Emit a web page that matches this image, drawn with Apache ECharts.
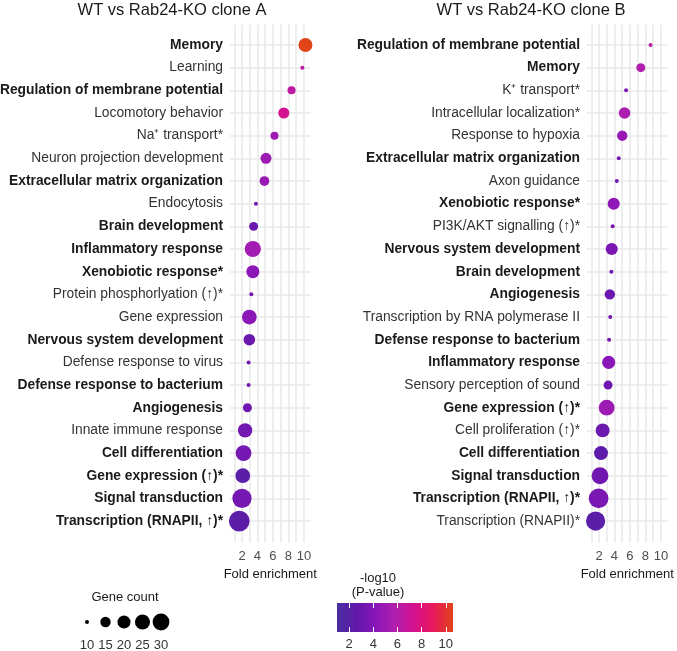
<!DOCTYPE html>
<html>
<head>
<meta charset="utf-8">
<script src="https://cdn.jsdelivr.net/npm/echarts@6/dist/echarts.min.js"></script>
<style>
  html, body { margin: 0; padding: 0; background: #fff; }
  #chart { width: 677px; height: 651px; }
</style>
</head>
<body>
<div id="chart"></div>
<script>
// clone A
const termsA = ['Memory', 'Learning', 'Regulation of membrane potential', 'Locomotory behavior',
  'Na⁺ transport*', 'Neuron projection development', 'Extracellular matrix organization',
  'Endocytosis', 'Brain development', 'Inflammatory response', 'Xenobiotic response*',
  'Protein phosphorlyation (↑)*', 'Gene expression', 'Nervous system development',
  'Defense response to virus', 'Defense response to bacterium', 'Angiogenesis',
  'Innate immune response', 'Cell differentiation', 'Gene expression (↑)*',
  'Signal transduction', 'Transcription (RNAPII, ↑)*'];
const foldA = [10.2, 9.8, 8.4, 7.4, 6.2, 5.1, 4.9, 3.8, 3.5, 3.4, 3.4, 3.2, 2.95, 2.95, 2.85, 2.85, 2.7, 2.4, 2.2, 2.1, 2.0, 1.65];
const countA = [22, 10, 12, 16, 12, 16, 14, 10, 13, 28, 20, 10, 24, 17, 10, 10, 13, 23, 27, 24, 38, 44];
const logpA = [10.6, 6.3, 6.4, 7.3, 5.0, 5.0, 4.8, 3.3, 3.0, 5.2, 4.3, 3.5, 4.3, 3.0, 3.3, 3.3, 3.2, 3.3, 3.4, 2.2, 3.4, 2.3];
const boldA = [1, 0, 1, 0, 0, 0, 1, 0, 1, 1, 1, 0, 0, 1, 0, 1, 1, 0, 1, 1, 1, 1];

// clone B
const termsB = ['Regulation of membrane potential', 'Memory', 'K⁺ transport*',
  'Intracellular localization*', 'Response to hypoxia', 'Extracellular matrix organization',
  'Axon guidance', 'Xenobiotic response*', 'PI3K/AKT signalling (↑)*',
  'Nervous system development', 'Brain development', 'Angiogenesis',
  'Transcription by RNA polymerase II', 'Defense response to bacterium',
  'Inflammatory response', 'Sensory perception of sound', 'Gene expression (↑)*',
  'Cell proliferation (↑)*', 'Cell differentiation', 'Signal transduction',
  'Transcription (RNAPII, ↑)*', 'Transcription (RNAPII)*'];
const foldB = [8.66, 7.4, 5.5, 5.3, 5.0, 4.55, 4.3, 3.9, 3.77, 3.64, 3.6, 3.4, 3.45, 3.3, 3.25, 3.17, 2.99, 2.47, 2.26, 2.13, 1.95, 1.56];
const countB = [10, 13, 10, 17, 15, 10, 10, 18, 10, 18, 10, 15, 10, 10, 20, 13, 27, 22, 22, 30, 40, 38];
const logpB = [6.2, 5.8, 3.8, 5.6, 4.8, 3.4, 3.3, 4.4, 3.5, 3.7, 3.4, 3.0, 3.2, 3.4, 4.2, 3.2, 5.0, 3.0, 2.4, 3.2, 3.6, 2.2];
const boldB = [1, 1, 0, 0, 0, 1, 0, 1, 0, 1, 1, 1, 0, 1, 1, 0, 1, 0, 1, 1, 1, 0];

const foldTicks = [2, 4, 6, 8, 10];
const foldGrid = [1, 2, 3, 4, 5, 6, 7, 8, 9, 10];
const sizeLegend = [10, 15, 20, 25, 30];
const colorTicks = [2, 4, 6, 8, 10];

const palette = ['#4a2fa0', '#5f18aa', '#8a16b8', '#b01fae', '#d5108d', '#e8185a', '#e2441a'];
const FONT = "'Liberation Sans', Arial, sans-serif";

// ggplot-like area scale for gene count
const sizeOf = c => 4 + 16.7 * Math.sqrt(Math.max(c - 10, 0) / 34);

const chart = echarts.init(document.getElementById('chart'));

function panelY(idx, terms, bold) {
  const ticks = terms.map((_, i) => i);
  return {
    gridIndex: idx, type: 'value', inverse: true, min: -0.9, max: 21.95,
    axisLine: { show: false },
    axisTick: { show: false, customValues: ticks },
    splitLine: { show: true, lineStyle: { color: '#e8e8e8', width: 1.5 } },
    axisLabel: {
      customValues: ticks, margin: 7, fontSize: 13.8, fontFamily: FONT,
      formatter: v => {
        const i = Math.round(v);
        return (bold[i] ? '{b|' : '{n|') + terms[i] + '}';
      },
      rich: {
        b: { fontWeight: 'bold', color: '#1a1a1a', fontSize: 13.8, fontFamily: FONT },
        n: { color: '#333', fontSize: 13.8, fontFamily: FONT }
      }
    }
  };
}

function panelX(idx) {
  return {
    gridIndex: idx, type: 'value', min: 0.45, max: 10.85,
    name: 'Fold enrichment', nameLocation: 'middle', nameGap: 25,
    nameTextStyle: { fontSize: 13, color: '#1a1a1a', fontFamily: FONT },
    axisLine: { show: false },
    axisTick: { show: false, customValues: foldGrid },
    splitLine: { show: true, lineStyle: { color: '#e8e8e8', width: 1.5 } },
    axisLabel: { customValues: foldTicks, margin: 7, fontSize: 13, color: '#4d4d4d', fontFamily: FONT }
  };
}

const gradient = new echarts.graphic.LinearGradient(0, 0, 1, 0,
  palette.map((c, i) => ({ offset: i / (palette.length - 1), color: c })));

chart.setOption({
  animation: false,
  backgroundColor: '#fff',
  title: [
    { text: 'WT vs Rab24-KO clone A', left: 172, top: 2, textAlign: 'center', padding: 0,
      textStyle: { fontSize: 16.5, fontWeight: 'normal', color: '#1a1a1a', fontFamily: FONT } },
    { text: 'WT vs Rab24-KO clone B', left: 531, top: 2, textAlign: 'center', padding: 0,
      textStyle: { fontSize: 16.5, fontWeight: 'normal', color: '#1a1a1a', fontFamily: FONT } },
    { text: 'Gene count', left: 125, top: 591, textAlign: 'center', padding: 0,
      textStyle: { fontSize: 13, fontWeight: 'normal', color: '#1a1a1a', fontFamily: FONT } },
    { text: '-log10\n(P-value)', left: 378, top: 571, textAlign: 'center', padding: 0,
      textStyle: { fontSize: 13, fontWeight: 'normal', color: '#1a1a1a', fontFamily: FONT, lineHeight: 14 } }
  ],
  grid: [
    { left: 230, top: 24.6, width: 80.5, height: 518, outerBoundsMode: 'none' },
    { left: 587, top: 24.6, width: 80.5, height: 518, outerBoundsMode: 'none' },
    { left: 337, top: 603, width: 116, height: 29, show: true, backgroundColor: gradient, borderWidth: 0, outerBoundsMode: 'none' },
    { left: 77.75, top: 610, width: 92.5, height: 24, outerBoundsMode: 'none' }
  ],
  xAxis: [
    panelX(0),
    panelX(1),
    { gridIndex: 2, type: 'value', min: 1, max: 10.6,
      axisLine: { show: false }, splitLine: { show: false },
      axisTick: { show: true, inside: true, length: 5, customValues: colorTicks, lineStyle: { color: '#fff', width: 1 } },
      axisLabel: { customValues: colorTicks, margin: 6, fontSize: 13, color: '#333', fontFamily: FONT } },
    { gridIndex: 2, type: 'value', position: 'top', min: 1, max: 10.6,
      axisLine: { show: false }, splitLine: { show: false },
      axisTick: { show: true, inside: true, length: 5, customValues: colorTicks, lineStyle: { color: '#fff', width: 1 } },
      axisLabel: { show: false } },
    { gridIndex: 3, type: 'category', data: sizeLegend.map(String),
      axisLine: { show: false }, axisTick: { show: false }, splitLine: { show: false },
      axisLabel: { interval: 0, hideOverlap: false, margin: 5, fontSize: 13, color: '#333', fontFamily: FONT } }
  ],
  yAxis: [
    panelY(0, termsA, boldA),
    panelY(1, termsB, boldB),
    { gridIndex: 2, type: 'value', min: 0, max: 1, show: false },
    { gridIndex: 3, type: 'value', min: 0, max: 1, show: false }
  ],
  visualMap: {
    type: 'continuous', show: false, min: 1, max: 10.6, dimension: 2,
    seriesIndex: [0, 1], inRange: { color: palette }
  },
  series: [
    { type: 'scatter', xAxisIndex: 0, yAxisIndex: 0,
      data: foldA.map((f, i) => [f, i, logpA[i], countA[i]]),
      symbolSize: v => sizeOf(v[3]), itemStyle: { opacity: 1 } },
    { type: 'scatter', xAxisIndex: 1, yAxisIndex: 1,
      data: foldB.map((f, i) => [f, i, logpB[i], countB[i]]),
      symbolSize: v => sizeOf(v[3]), itemStyle: { opacity: 1 } },
    { type: 'scatter', xAxisIndex: 4, yAxisIndex: 3,
      data: sizeLegend.map(c => [String(c), 0.5, c]),
      symbolSize: v => sizeOf(v[2]),
      itemStyle: { color: '#000', opacity: 1 } }
  ]
});
</script>
</body>
</html>
